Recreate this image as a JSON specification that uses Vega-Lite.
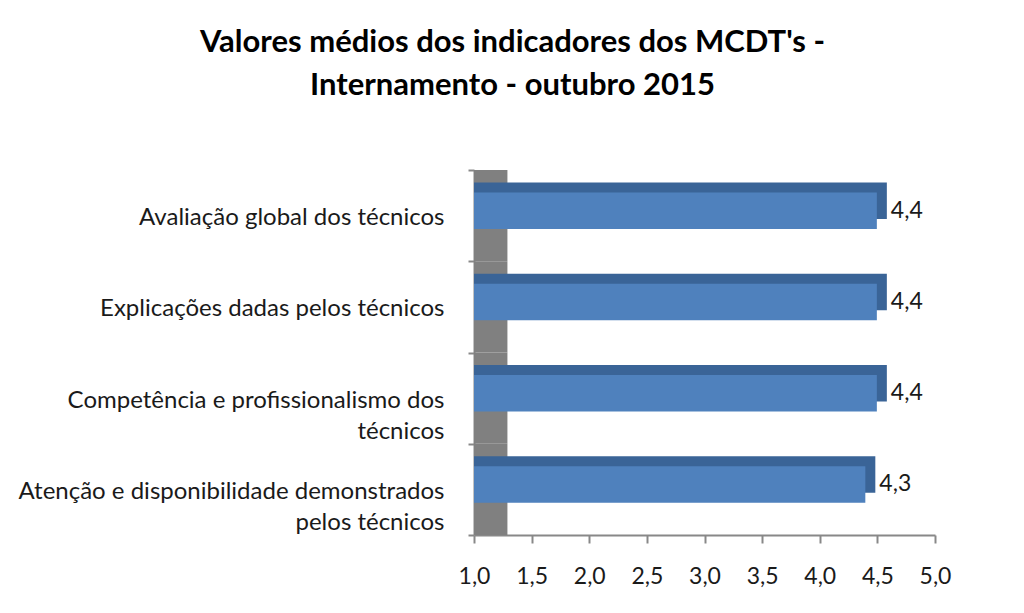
{
  "$schema": "https://vega.github.io/schema/vega-lite/v6.json",
  "width": 461,
  "height": 365,
  "autosize": {"type": "none"},
  "padding": {"left": 474, "top": 170, "right": 89, "bottom": 78},
  "background": "white",
  "config": {
    "view": {"stroke": null},
    "font": "Lato"
  },
  "title": {
    "text": ["Valores médios dos indicadores dos MCDT's -", "Internamento - outubro 2015"],
    "font": "Lato",
    "fontSize": 31,
    "fontWeight": "bold",
    "color": "#000000",
    "lineHeight": 43,
    "anchor": "middle",
    "dx": -192,
    "offset": 56
  },
  "data": {
    "values": [
      {"indicador": "Avaliação global dos técnicos", "valor": 4.4, "rotulo": "4,4"},
      {"indicador": "Explicações dadas pelos técnicos", "valor": 4.4, "rotulo": "4,4"},
      {"indicador": "Competência e profissionalismo dos técnicos", "valor": 4.4, "rotulo": "4,4"},
      {"indicador": "Atenção e disponibilidade demonstrados pelos técnicos", "valor": 4.3, "rotulo": "4,3"}
    ]
  },
  "encoding": {
    "y": {
      "field": "indicador",
      "type": "nominal",
      "sort": null,
      "scale": {"paddingInner": 0, "paddingOuter": 0},
      "axis": {
        "title": null,
        "domainColor": "#888888",
        "domainWidth": 2,
        "tickColor": "#888888",
        "tickWidth": 2,
        "tickSize": 6,
        "tickBand": "extent",
        "labelFont": "Lato",
        "labelFontSize": 24,
        "labelColor": "#1a1a1a",
        "labelPadding": 24,
        "labelLimit": 600,
        "labelLineHeight": 31,
        "labelOffset": 2,
        "labelExpr": "datum.value == 'Competência e profissionalismo dos técnicos' ? ['Competência e profissionalismo dos', 'técnicos'] : datum.value == 'Atenção e disponibilidade demonstrados pelos técnicos' ? ['Atenção e disponibilidade demonstrados', 'pelos técnicos'] : datum.value"
      }
    }
  },
  "layer": [
    {
      "mark": {"type": "bar", "color": "#808080", "height": {"band": 1}},
      "encoding": {
        "x": {
          "datum": 1.29,
          "type": "quantitative",
          "scale": {"domain": [1, 5], "nice": false, "zero": false},
          "axis": {
            "title": null,
            "values": [1, 1.5, 2, 2.5, 3, 3.5, 4, 4.5, 5],
            "labelExpr": "replace(format(datum.value, '.1f'), '.', ',')",
            "labelFlush": false,
            "domainColor": "#888888",
            "domainWidth": 2,
            "tickColor": "#888888",
            "tickWidth": 2,
            "tickSize": 8,
            "labelFont": "Lato",
            "labelFontSize": 23,
            "labelColor": "#1a1a1a",
            "labelPadding": 22,
            "grid": false
          }
        }
      }
    },
    {
      "mark": {"type": "bar", "color": "#3a6497", "height": {"band": 0.4}, "xOffset": 21, "x2Offset": 21, "yOffset": -15, "clip": true},
      "encoding": {
        "x": {"field": "valor", "type": "quantitative"}
      }
    },
    {
      "mark": {"type": "bar", "color": "#4f81bd", "height": {"band": 0.4}, "xOffset": 11, "x2Offset": 11, "yOffset": -5, "clip": true},
      "encoding": {
        "x": {"field": "valor", "type": "quantitative"}
      }
    },
    {
      "mark": {"type": "text", "align": "left", "baseline": "middle", "font": "Lato", "fontSize": 23, "color": "#1a1a1a", "dx": 25, "dy": -5},
      "encoding": {
        "x": {"field": "valor", "type": "quantitative"},
        "text": {"field": "rotulo", "type": "nominal"}
      }
    }
  ]
}
